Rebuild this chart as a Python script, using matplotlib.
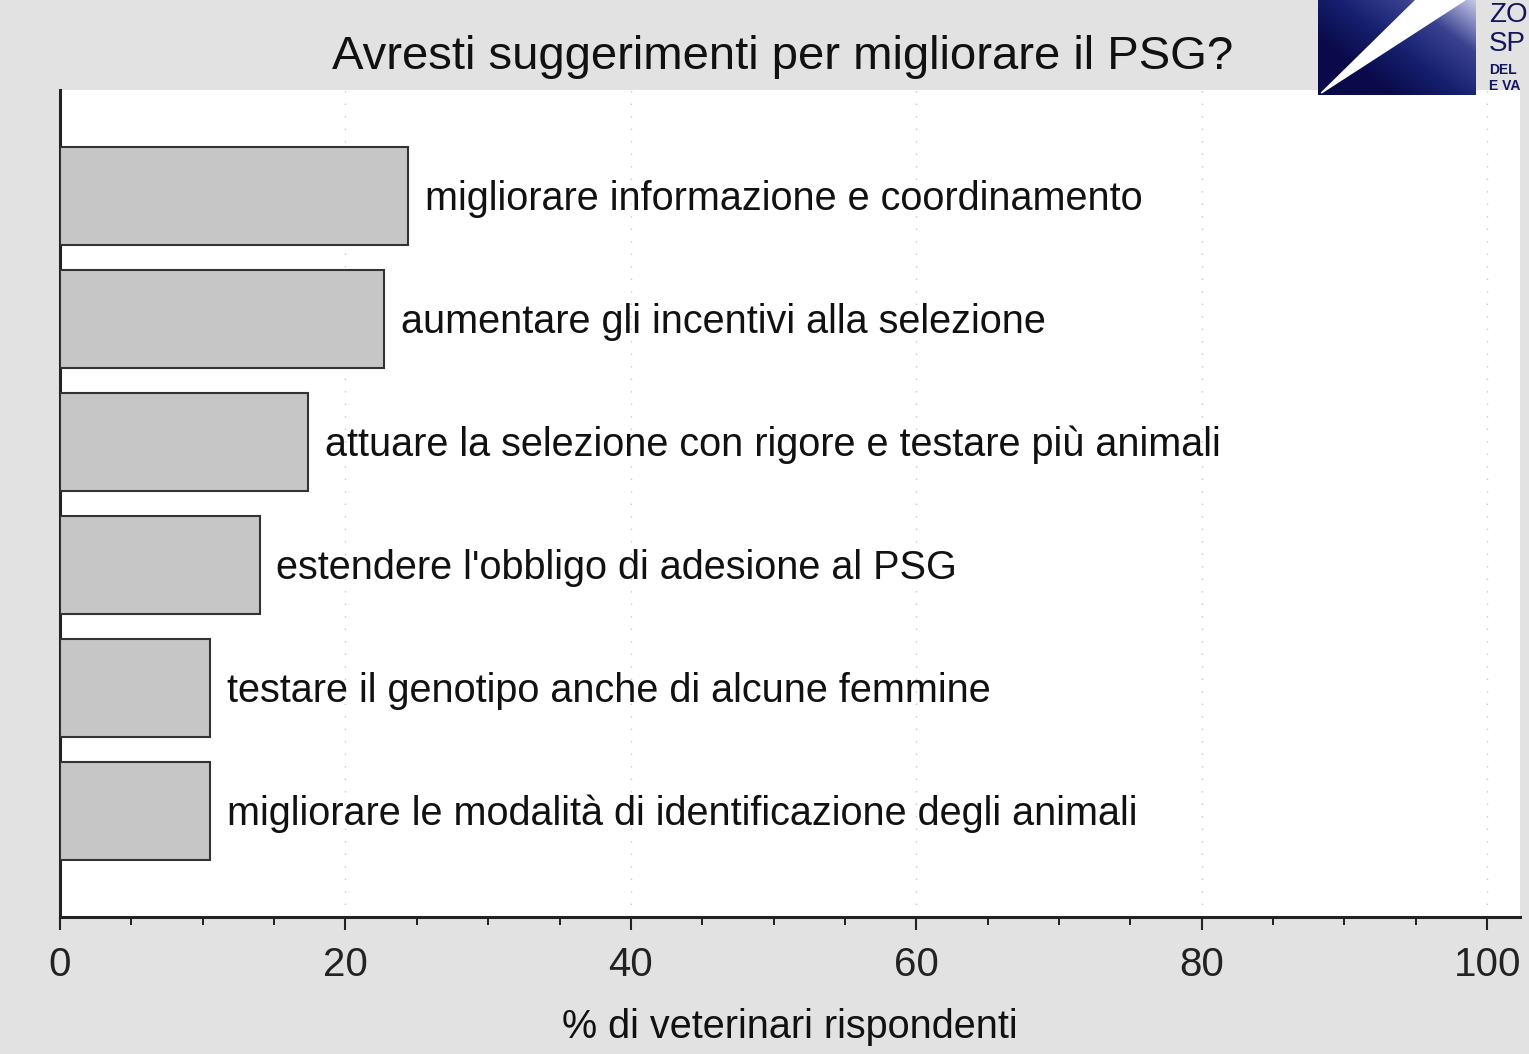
import matplotlib
matplotlib.use("Agg")
import matplotlib.pyplot as plt
import numpy as np
from matplotlib.ticker import MultipleLocator
from matplotlib.colors import LinearSegmentedColormap

categories = [
    "migliorare informazione e coordinamento",
    "aumentare gli incentivi alla selezione",
    "attuare la selezione con rigore e testare più animali",
    "estendere l'obbligo di adesione al PSG",
    "testare il genotipo anche di alcune femmine",
    "migliorare le modalità di identificazione degli animali",
]
values = [24.4, 22.7, 17.4, 14.0, 10.5, 10.5]
xticks = [0, 20, 40, 60, 80, 100]

plt.rcParams['font.family'] = ['Liberation Sans', 'DejaVu Sans']

fig = plt.figure(figsize=(15.29, 10.54), dpi=100)
fig.patch.set_facecolor('#e2e2e2')

ax = fig.add_axes([60/1529, 1-917/1054, (1520-60)/1529, (917-90)/1054])
ax.set_facecolor('white')

n = len(categories)
ypos = np.arange(n)[::-1]
ax.barh(ypos, values, height=0.8, color='#c6c6c6', edgecolor='#333333', linewidth=1.5, zorder=3)
for y, v, lab in zip(ypos, values, categories):
    ax.annotate(lab, xy=(v, y), xytext=(12, -2), textcoords='offset points',
                ha='left', va='center', fontsize=28.5, color='#111111', zorder=4)

ax.set_xlim(0, 102.3)
ax.set_ylim(-0.86, n - 1 + 0.86)
ax.set_xticks(xticks)
ax.set_xticklabels([str(t) for t in xticks], fontsize=29)
ax.xaxis.set_minor_locator(MultipleLocator(5))
ax.tick_params(axis='x', which='major', direction='out', length=9, width=1.5, pad=12, colors='#222222')
ax.tick_params(axis='x', which='minor', direction='out', length=6, width=1.2)
ax.set_yticks([])
for s in ['top', 'right']:
    ax.spines[s].set_visible(False)
for s in ['left', 'bottom']:
    ax.spines[s].set_linewidth(2.2)
    ax.spines[s].set_color('#222222')
ax.grid(axis='x', which='major', linestyle=(0, (1, 8)), color='#c8c8c8', linewidth=1, zorder=0)

ax.set_xlabel("% di veterinari rispondenti", fontsize=28.5, labelpad=17, color='#111111')
fig.text(783/1529, 1-57/1054, "Avresti suggerimenti per migliorare il PSG?", ha='center', va='center',
         fontsize=34, color='#111111')

# logo
lax = fig.add_axes([1318/1529, 1-95/1054, 158/1529, 95/1054])
gx, gy = np.meshgrid(np.linspace(0, 1, 200), np.linspace(0, 1, 120))
grad = np.clip((gx * 0.75 + gy * 0.6) - 0.35, 0, 1)
cmap = LinearSegmentedColormap.from_list('lg', ['#0a0a4a', '#16206e', '#3a4290', '#c4c8e8'])
lax.imshow(grad, cmap=cmap, extent=[0, 1, 0, 1], origin='lower', aspect='auto')
lax.fill([0.02, 0.62, 0.93], [0.02, 1.0, 1.0], color='white')
lax.set_xlim(0, 1); lax.set_ylim(0, 1)
lax.axis('off')
fig.text(1489/1529, 1-15/1054, "ZO", fontsize=20, color='#15155e', va='center', ha='left')
fig.text(1489/1529, 1-44/1054, "SP", fontsize=20, color='#15155e', va='center', ha='left')
fig.text(1489/1529, 1-70/1054, "DEL", fontsize=10, color='#15155e', va='center', ha='left', fontweight='bold')
fig.text(1489/1529, 1-86/1054, "E VA", fontsize=10, color='#15155e', va='center', ha='left', fontweight='bold')

fig.savefig('out.png', dpi=100, facecolor=fig.get_facecolor())
